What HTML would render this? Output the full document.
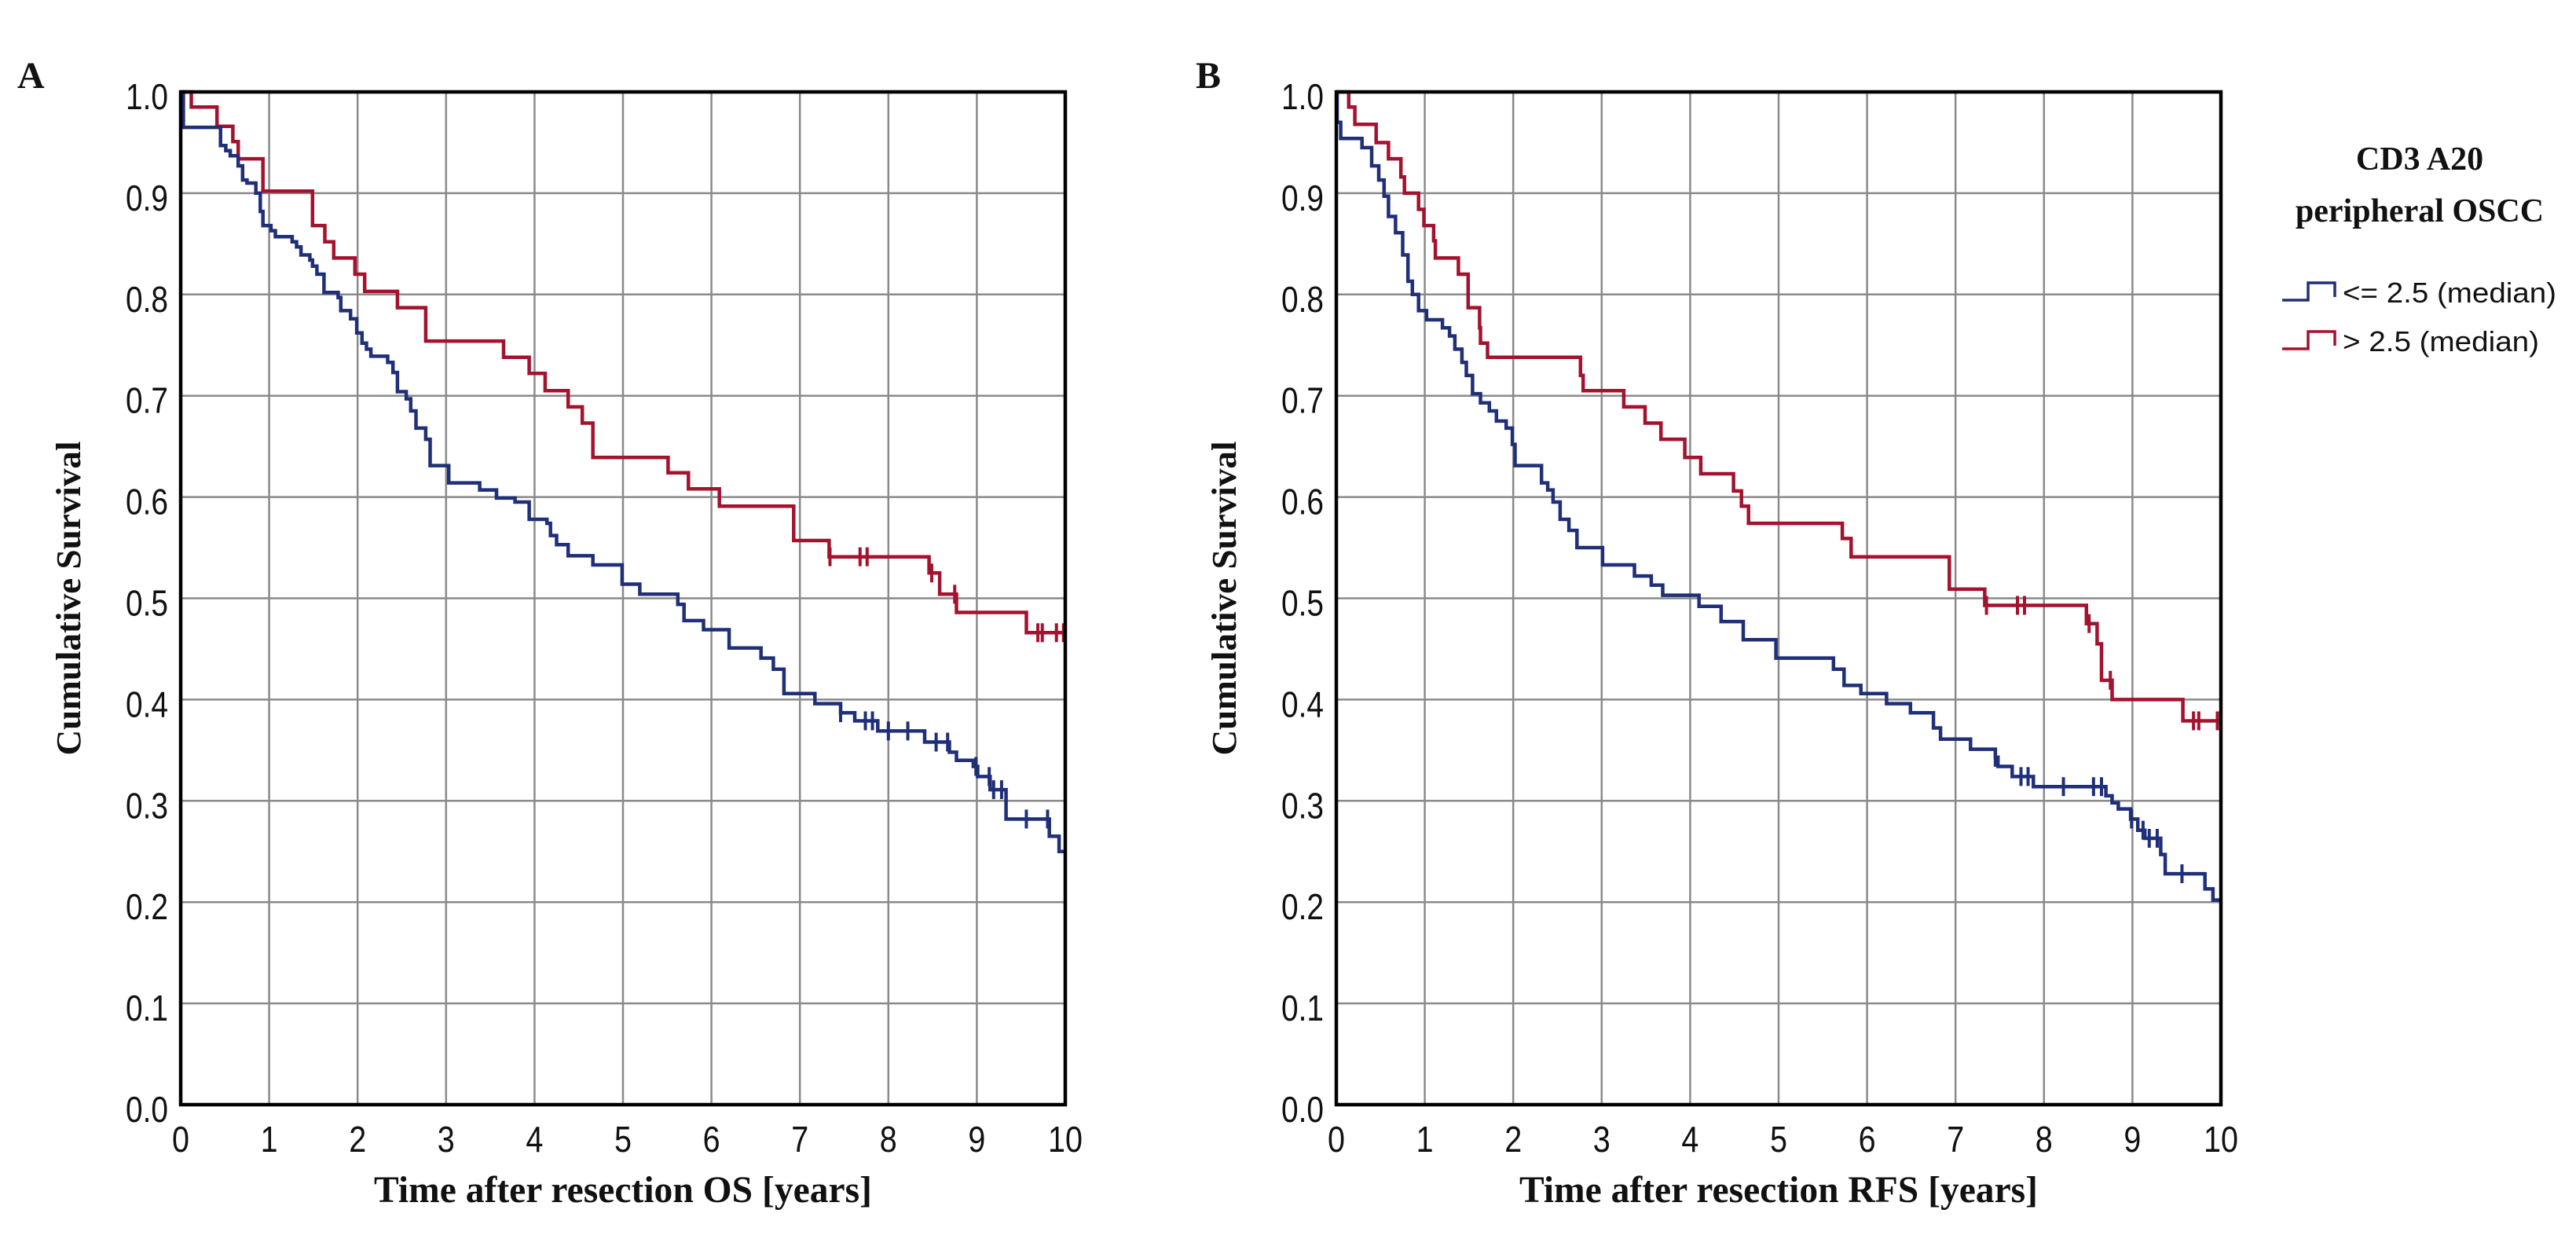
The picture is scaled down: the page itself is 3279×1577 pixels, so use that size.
<!DOCTYPE html>
<html><head><meta charset="utf-8"><style>
html,body{margin:0;padding:0;background:#fff;}
svg{display:block;}
.tick{font-family:"Liberation Sans Narrow","Liberation Sans",sans-serif;font-size:46px;fill:#111;}
.ttl{font-family:"Liberation Serif",serif;font-weight:bold;fill:#111;}
.leg{font-family:"Liberation Sans",sans-serif;font-size:36px;fill:#111;}
</style></head>
<body>
<svg id="chart" width="3279" height="1577" viewBox="0 0 3279 1577" xmlns="http://www.w3.org/2000/svg">
<rect width="3279" height="1577" fill="#fff"/>
<text class="ttl" x="22" y="112" font-size="48">A</text>
<text class="ttl" x="1522" y="112" font-size="48">B</text>
<g>
<text class="ttl" x="3080" y="216" font-size="42" text-anchor="middle">CD3 A20</text>
<text class="ttl" x="3080" y="282" font-size="42" text-anchor="middle">peripheral OSCC</text>
<path d="M2905 382 H2938 V360 H2972 V378" fill="none" stroke="#1f2f78" stroke-width="3.5"/>
<text class="leg" x="2982" y="385" font-size="40" textLength="272" lengthAdjust="spacingAndGlyphs">&lt;= 2.5 (median)</text>
<path d="M2905 444 H2938 V422 H2972 V440" fill="none" stroke="#a3122e" stroke-width="3.5"/>
<text class="leg" x="2982" y="447" font-size="40" textLength="250" lengthAdjust="spacingAndGlyphs">&gt; 2.5 (median)</text>
</g>
</svg>
<script>
// ---- data ----
const xTicks = [0,1,2,3,4,5,6,7,8,9,10];
const yTicks = [0.0,0.1,0.2,0.3,0.4,0.5,0.6,0.7,0.8,0.9,1.0];
const xTitles = ["Time after resection OS [years]","Time after resection RFS [years]"];

const aHighT = [0.12,0.41,0.59,0.65,0.93,1.49,1.63,1.73,1.97,2.08,2.45,2.77,3.65,3.94,4.12,4.38,4.54,4.66,5.51,5.74,6.09,6.93,7.33,8.46,8.58,8.77,9.56];
const aHighV = [0.985,0.966,0.951,0.934,0.902,0.868,0.852,0.836,0.82,0.803,0.787,0.754,0.738,0.722,0.705,0.689,0.673,0.639,0.624,0.608,0.591,0.557,0.541,0.525,0.504,0.486,0.466];
const aHighC = [7.34,7.68,7.76,8.49,8.75,9.69,9.74,9.9,9.98];

const aLowT = [0.03,0.45,0.51,0.56,0.65,0.70,0.75,0.85,0.90,0.93,1.02,1.07,1.26,1.31,1.36,1.46,1.49,1.54,1.62,1.78,1.81,1.92,1.99,2.05,2.10,2.15,2.34,2.40,2.45,2.55,2.60,2.66,2.77,2.82,3.03,3.38,3.57,3.78,3.94,4.14,4.18,4.25,4.38,4.66,4.99,5.19,5.62,5.69,5.91,6.20,6.56,6.70,6.82,7.17,7.46,7.62,7.88,8.41,8.69,8.77,8.96,9.01,9.15,9.33,9.82,9.93];
const aLowV = [0.965,0.947,0.942,0.937,0.927,0.913,0.91,0.90,0.882,0.868,0.863,0.857,0.852,0.847,0.839,0.834,0.828,0.82,0.802,0.797,0.784,0.776,0.762,0.752,0.746,0.739,0.733,0.723,0.704,0.697,0.685,0.668,0.657,0.631,0.614,0.607,0.599,0.595,0.578,0.574,0.562,0.553,0.542,0.533,0.514,0.504,0.494,0.478,0.469,0.451,0.441,0.43,0.406,0.396,0.387,0.379,0.369,0.358,0.348,0.34,0.334,0.324,0.311,0.282,0.265,0.25];
const aLowC = [7.46,7.74,7.82,8.0,8.22,8.54,8.67,8.99,9.14,9.19,9.28,9.56,9.8];

const bHighT = [0.14,0.21,0.45,0.59,0.73,0.77,0.93,0.99,1.10,1.12,1.38,1.49,1.62,1.63,1.71,2.76,2.79,3.25,3.49,3.67,3.94,4.12,4.49,4.58,4.66,5.72,5.82,6.93,7.33,8.48,8.60,8.65,8.77,9.57];
const bHighV = [0.985,0.968,0.95,0.934,0.916,0.90,0.884,0.868,0.853,0.836,0.82,0.787,0.767,0.752,0.738,0.72,0.705,0.689,0.673,0.657,0.639,0.623,0.606,0.591,0.574,0.559,0.541,0.509,0.493,0.475,0.455,0.419,0.40,0.379];
const bHighC = [7.35,7.7,7.78,8.51,8.75,9.69,9.75,9.96];

const bLowT = [0.01,0.05,0.29,0.40,0.48,0.54,0.59,0.67,0.75,0.81,0.86,0.93,1.02,1.20,1.28,1.34,1.42,1.47,1.54,1.63,1.73,1.81,1.92,1.99,2.02,2.32,2.39,2.45,2.53,2.63,2.72,3.01,3.37,3.56,3.69,4.10,4.35,4.60,4.97,5.62,5.74,5.93,6.22,6.49,6.75,6.83,7.17,7.45,7.48,7.64,7.88,8.70,8.77,8.84,8.98,9.06,9.14,9.32,9.37,9.82,9.91];
const bLowV = [0.97,0.954,0.945,0.927,0.913,0.897,0.877,0.861,0.839,0.813,0.80,0.784,0.775,0.767,0.759,0.746,0.733,0.72,0.702,0.693,0.685,0.675,0.668,0.652,0.631,0.614,0.607,0.595,0.578,0.567,0.55,0.533,0.522,0.513,0.503,0.492,0.477,0.459,0.441,0.43,0.414,0.406,0.396,0.387,0.372,0.361,0.351,0.343,0.334,0.324,0.314,0.305,0.298,0.292,0.282,0.271,0.263,0.247,0.228,0.213,0.202];
const bLowC = [7.45,7.74,7.82,8.22,8.56,8.65,8.99,9.12,9.19,9.28,9.56];

const panels = [
  {x0:230, name:"a", title:xTitles[0], series:[[aHighT,aHighV,aHighC,"#a3122e","high"],[aLowT,aLowV,aLowC,"#1f2f78","low"]]},
  {x0:1701, name:"b", title:xTitles[1], series:[[bHighT,bHighV,bHighC,"#a3122e","high"],[bLowT,bLowV,bLowC,"#1f2f78","low"]]}
];
const W = 1126, Y0 = 117, Y1 = 1406;
const svg = document.getElementById('chart');
const NS = "http://www.w3.org/2000/svg";
function mk(tag, attrs, parent){const e=document.createElementNS(NS,tag);for(const k in attrs)e.setAttribute(k,attrs[k]);(parent||svg).appendChild(e);return e;}
function valAt(T,V,t){let v=1;for(let i=0;i<T.length;i++){if(T[i]<=t)v=V[i];else break;}return v;}
function tlen(s){let w=0;for(const ch of s)w+=(ch==='.'?10:22);return w;}

panels.forEach(p=>{
  const sx = t => p.x0 + t/10*W;
  const sy = v => Y1 - v*(Y1-Y0);
  const g = mk('g',{});
  
  
  xTicks.forEach(t=>{
    if(t>0&&t<10){const l=mk('line',{x1:sx(t),x2:sx(t),y1:Y0,y2:Y1,stroke:'#8a8a8a','stroke-width':2.5},g);
      
      }
    const s=String(t);
    const tx=mk('text',{x:sx(t),y:1466,'text-anchor':'middle',class:'tick',textLength:tlen(s),lengthAdjust:'spacingAndGlyphs'},g);
    tx.textContent=s;
    
    
  });
  yTicks.forEach(v=>{
    if(v>0&&v<1){const l=mk('line',{x1:p.x0,x2:p.x0+W,y1:sy(v),y2:sy(v),stroke:'#8a8a8a','stroke-width':2.5},g);
      
      }
    const s=v.toFixed(1);
    const tx=mk('text',{x:p.x0-16,y:sy(v)+22,'text-anchor':'end',class:'tick',textLength:tlen(s),lengthAdjust:'spacingAndGlyphs'},g);
    tx.textContent=s;
    
    
  });
  p.series.forEach(s=>{
    const [T,V,C,col,nm]=s;
    let d='M'+sx(0)+' '+sy(1);
    for(let i=0;i<T.length;i++){d+=' H'+sx(T[i]).toFixed(1)+' V'+sy(V[i]).toFixed(1);}
    d+=' H'+sx(10);
    const path=mk('path',{d:d,fill:'none',stroke:col,'stroke-width':4.5},g);
    
    
    C.forEach(c=>{
      const y=sy(valAt(T,V,c));
      const m=mk('line',{x1:sx(c),x2:sx(c),y1:y-12,y2:y+12,stroke:col,'stroke-width':4},g);
      
      
    });
  });
  const fr=mk('rect',{x:p.x0,y:Y0,width:W,height:Y1-Y0,fill:'none',stroke:'#000','stroke-width':4.5},g);
  
  
  const xt=mk('text',{x:p.x0+W/2,y:1530,'text-anchor':'middle',class:'ttl','font-size':48,textLength:(p.name==='a'?634:660),lengthAdjust:'spacingAndGlyphs'},g);
  xt.textContent=p.title;
  
  
  const yx=p.x0-128, yy=(Y0+Y1)/2;
  const yt=mk('text',{x:yx,y:yy,'text-anchor':'middle',class:'ttl','font-size':44,textLength:400,lengthAdjust:'spacingAndGlyphs',transform:'rotate(-90 '+yx+' '+yy+')'},g);
  yt.textContent='Cumulative Survival';
  
  
});
</script>
</body></html>
